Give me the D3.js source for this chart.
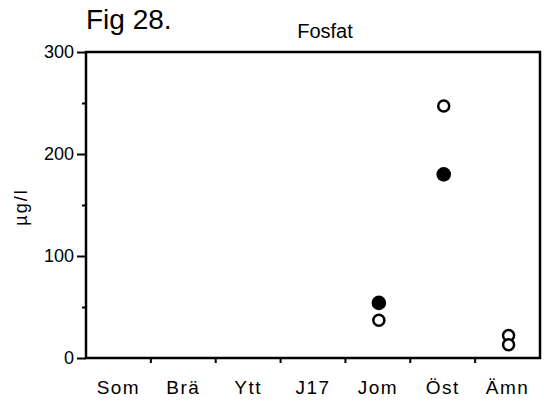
<!DOCTYPE html>
<html>
<head>
<meta charset="utf-8">
<script src="https://cdn.jsdelivr.net/npm/d3@7"></script>
<style>
  html, body { margin: 0; padding: 0; background: #fff; }
  svg { display: block; font-family: "Liberation Sans", Arial, Helvetica, sans-serif; }
</style>
</head>
<body>
<div id="chart"></div>
<script>
// stations along the x axis
const stations = ["Som", "Brä", "Ytt", "J17", "Jom", "Öst", "Ämn"];

// µg/l, null where no sample
const filledVals = [null, null, null, null, 54, 180, null];
const openVals   = [null, null, null, null, 37, 247, 22];
const openVals2  = [null, null, null, null, null, null, 13];

const yMajor = [0, 100, 200, 300];
const yMinor = [50, 150, 250];

const W = 544, H = 404;

let svg = d3.select("#chart").append("svg")
    .attr("width", W)
    .attr("height", H);

let x = d3.scaleBand()
    .domain(stations)
    .range([86, 540])
    .padding(0);

let y = d3.scaleLinear()
    .domain([0, 300])
    .range([358, 52]);

// frame
svg.append("rect")
    .attr("x", x.range()[0])
    .attr("y", y(300))
    .attr("width", x.range()[1] - x.range()[0])
    .attr("height", y(0) - y(300))
    .attr("fill", "none")
    .attr("stroke", "#000")
    .attr("stroke-width", 2.5);

// y axis, major ticks with labels
let yAxis = d3.axisLeft(y)
    .tickValues(yMajor)
    .tickSize(9)
    .tickPadding(3)
    .tickFormat(d3.format("d"));

let gy = svg.append("g")
    .attr("transform", `translate(${x.range()[0]},0)`)
    .call(yAxis);
gy.select(".domain").remove();
gy.selectAll("line").attr("stroke-width", 2);
gy.selectAll("text")
    .attr("font-size", 18)
    .attr("fill", "#000");

// minor ticks
svg.append("g")
    .attr("transform", `translate(${x.range()[0]},0)`)
    .call(d3.axisLeft(y).tickValues(yMinor).tickSize(4).tickFormat(""))
    .call(g => g.select(".domain").remove())
    .selectAll("line").attr("stroke-width", 2);

// x ticks at band edges
let edges = stations.slice(1).map(s => x(s));
svg.append("g")
    .selectAll("line")
    .data(edges)
    .join("line")
    .attr("x1", d => d)
    .attr("x2", d => d)
    .attr("y1", y(0))
    .attr("y2", y(0) + 5)
    .attr("stroke", "#000")
    .attr("stroke-width", 2);

// x labels
svg.append("g")
    .selectAll("text")
    .data(stations)
    .join("text")
    .attr("x", d => x(d) + x.bandwidth() / 2)
    .attr("y", 394)
    .attr("text-anchor", "middle")
    .attr("font-size", 19)
    .attr("letter-spacing", 1.5)
    .text(d => d);

// titles
svg.append("text")
    .attr("x", 86)
    .attr("y", 29)
    .attr("font-size", 28)
    .text("Fig 28.");

svg.append("text")
    .attr("x", 325)
    .attr("y", 38)
    .attr("text-anchor", "middle")
    .attr("font-size", 20)
    .text("Fosfat");

svg.append("text")
    .attr("transform", "translate(27,207) rotate(-90)")
    .attr("text-anchor", "middle")
    .attr("font-size", 18)
    .attr("letter-spacing", 2)
    .text("µg/l");

// points
let cx = d => x(d.s) + x.bandwidth() / 2 + 1;
let pts = (vals) => stations.map((s, i) => ({ s, v: vals[i] })).filter(d => d.v != null);

svg.append("g")
    .selectAll("circle")
    .data(pts(filledVals))
    .join("circle")
    .attr("cx", cx)
    .attr("cy", d => y(d.v))
    .attr("r", 7.3)
    .attr("fill", "#000");

svg.append("g")
    .selectAll("circle")
    .data(pts(openVals).concat(pts(openVals2)))
    .join("circle")
    .attr("cx", cx)
    .attr("cy", d => y(d.v))
    .attr("r", 5.5)
    .attr("fill", "#fff")
    .attr("stroke", "#000")
    .attr("stroke-width", 2.5);
</script>
</body>
</html>
